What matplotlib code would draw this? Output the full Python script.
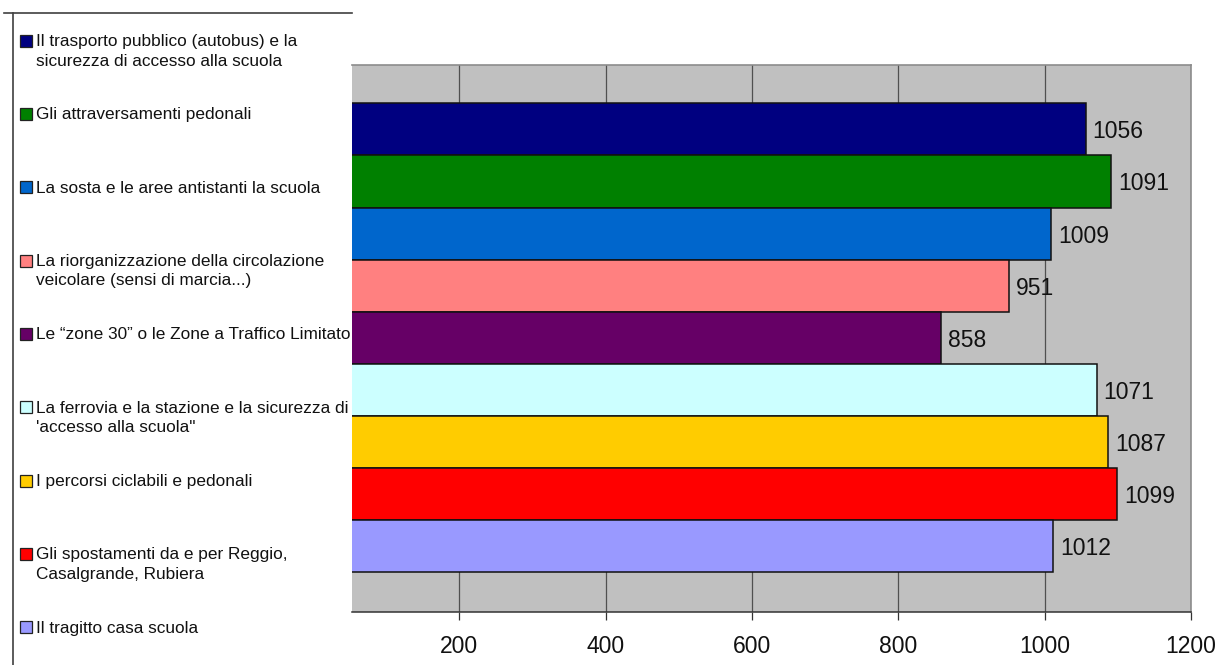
import numpy as np
import matplotlib.pyplot as plt
from matplotlib.patches import Rectangle
from matplotlib.lines import Line2D

plt.rcParams["font.family"] = ["Liberation Sans", "DejaVu Sans"]

labels = [
    "Il trasporto pubblico (autobus) e la\nsicurezza di accesso alla scuola",
    "Gli attraversamenti pedonali",
    "La sosta e le aree antistanti la scuola",
    "La riorganizzazione della circolazione\nveicolare (sensi di marcia...)",
    "Le \u201czone 30\u201d o le Zone a Traffico Limitato",
    "La ferrovia e la stazione e la sicurezza di\n'accesso alla scuola\"",
    "I percorsi ciclabili e pedonali",
    "Gli spostamenti da e per Reggio,\nCasalgrande, Rubiera",
    "Il tragitto casa scuola",
]
values = [1056, 1091, 1009, 951, 858, 1071, 1087, 1099, 1012]
colors = ["#000080", "#008000", "#0066CC", "#FF8080", "#660066",
          "#CCFFFF", "#FFCC00", "#FF0000", "#9999FF"]
xticks = [200, 400, 600, 800, 1000, 1200]

W, H = 1221, 665
fig = plt.figure(figsize=(W / 100, H / 100), dpi=100)


def fx(px):
    return px / W


def fy(py):
    return 1 - py / H


ax = fig.add_axes([fx(352.5), fy(612), fx(1191 - 352.5), (612 - 65) / H])
ax.set_facecolor("#C0C0C0")

y = np.arange(len(values))
bars = ax.barh(y, values, height=1.0, color=colors, edgecolor="#111111", linewidth=1.1)

for b, v in zip(bars, values):
    ax.annotate(str(v), (v, b.get_y() + b.get_height() / 2),
                xytext=(5, 0), textcoords="offset points",
                ha="left", va="center_baseline", fontsize=16.5, color="#111111")

ax.set_xlim(54, 1200)
ax.set_ylim(8.5 + 0.76, -0.5 - 0.735)
ax.set_xticks(xticks)
ax.set_xticklabels([str(t) for t in xticks])
ax.set_yticks([])
ax.tick_params(axis="x", direction="out", length=5.5, width=0.9, color="#333333",
               labelsize=16.5, pad=11, labelcolor="#111111")
ax.set_axisbelow(True)
ax.grid(axis="x", color="#505050", linewidth=0.9)

ax.spines["left"].set_visible(False)
ax.spines["top"].set_color("#8C8C8C")
ax.spines["right"].set_color("#8C8C8C")
ax.spines["top"].set_linewidth(1.2)
ax.spines["right"].set_linewidth(1.2)
ax.spines["bottom"].set_color("#333333")
ax.spines["bottom"].set_linewidth(1.1)

# legend drawn by hand on the left
fig.add_artist(Line2D([fx(13), fx(13)], [fy(12.7), fy(665)], color="#404040", linewidth=1.2))
fig.add_artist(Line2D([fx(4), fx(352)], [fy(12.7), fy(12.7)], color="#404040", linewidth=1.2))

fs = 12.4
for i, (lab, c) in enumerate(zip(labels, colors)):
    base = 46.7 + 73.3 * i
    fig.add_artist(Rectangle((fx(19.5), fy(base)), fx(12.5), 12.0 / H,
                             transform=fig.transFigure, facecolor=c,
                             edgecolor="#222222", linewidth=0.9))
    top = base - 0.729 * fs * 100 / 72
    fig.text(fx(36), fy(top), lab, ha="left", va="top",
             fontsize=fs, linespacing=1.37, color="#111111")

fig.savefig("out.png", dpi=100)
